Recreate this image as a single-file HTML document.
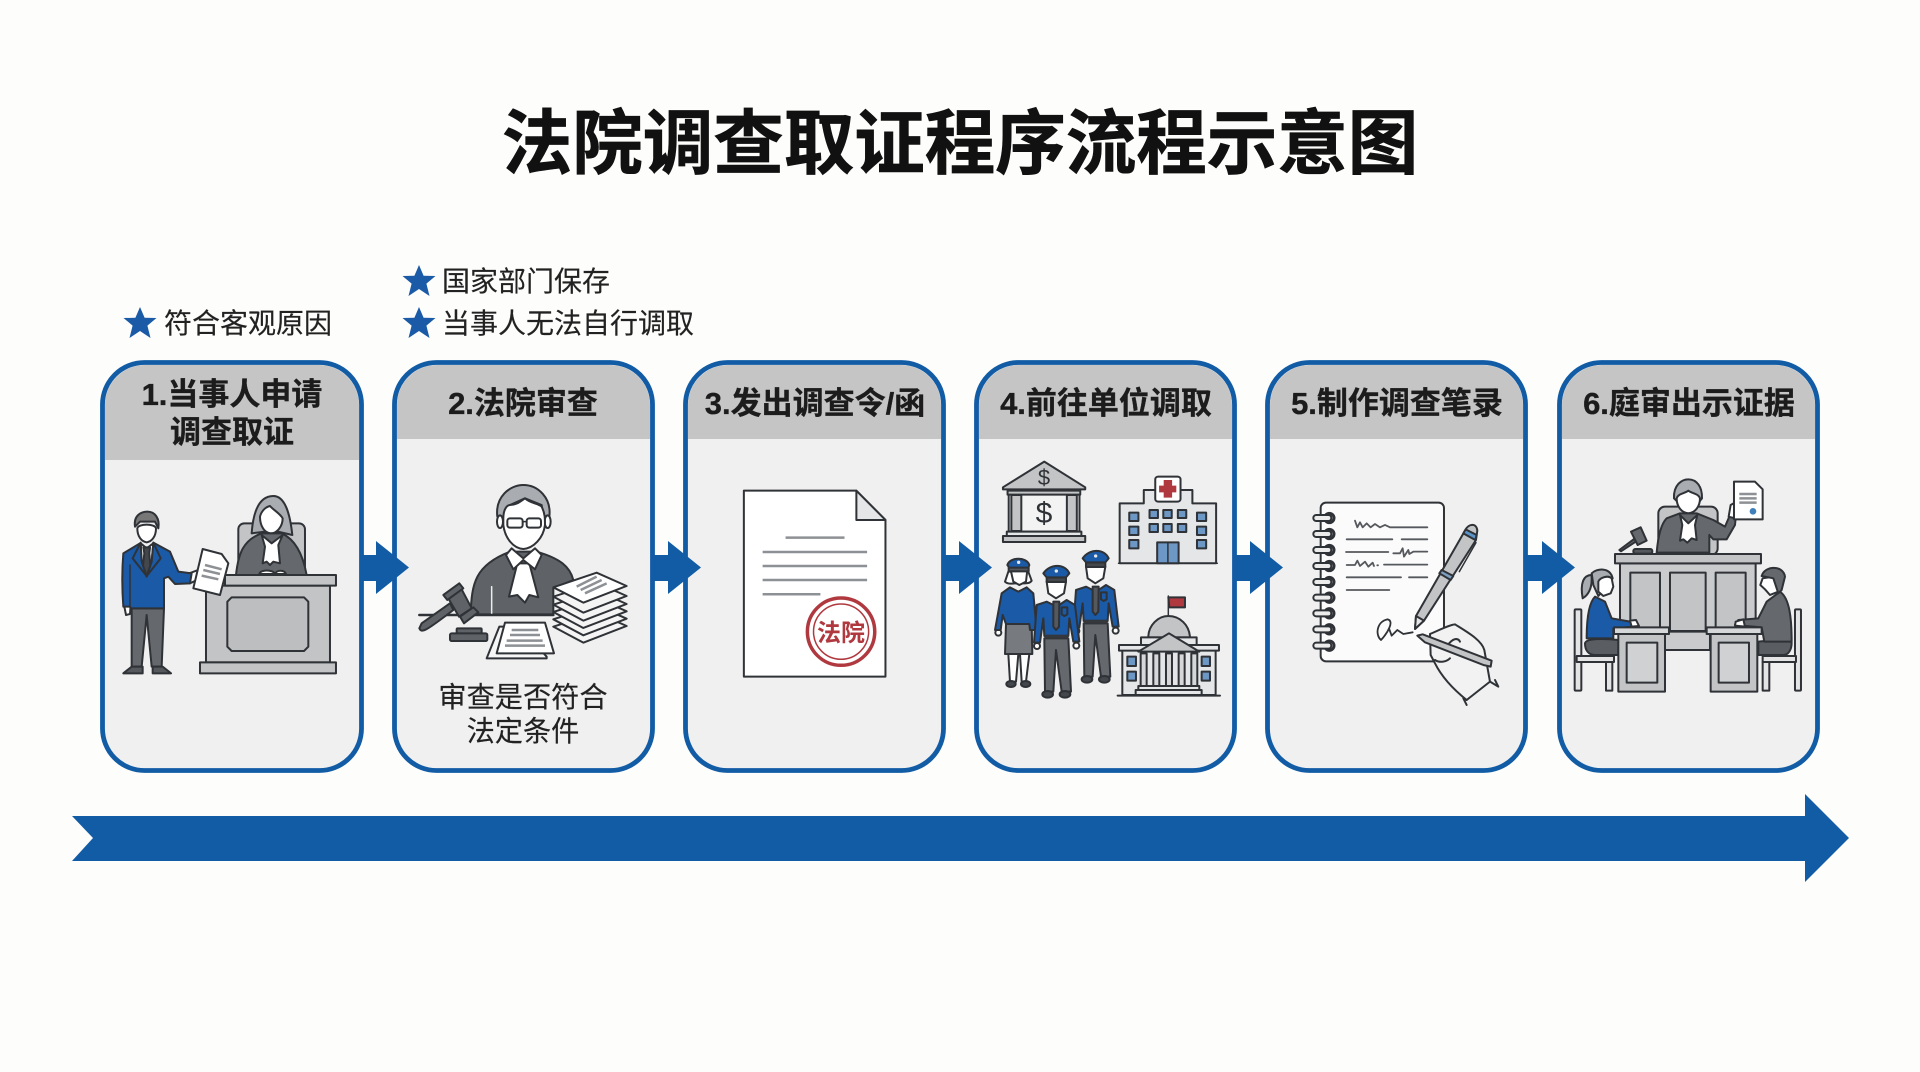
<!DOCTYPE html>
<html lang="zh"><head><meta charset="utf-8"><title>法院调查取证程序流程示意图</title>
<style>
html,body{margin:0;padding:0;background:#fdfdfb}
svg{display:block}
svg *{vector-effect:non-scaling-stroke}
text{font-family:"Liberation Sans","Noto Sans CJK SC",sans-serif;text-anchor:middle;fill:#222}
.h{font-size:31px;font-weight:700;fill:#1c1c1c;stroke:#1c1c1c;stroke-width:.35px}
.l{font-size:28px;fill:#222;text-anchor:start;stroke:#222;stroke-width:.15px}
.c{font-size:28.200px;fill:#222;stroke:#222;stroke-width:.15px}
.s{stroke:#2f3236;stroke-width:2;stroke-linejoin:round;stroke-linecap:round}
.t{stroke:#2f3236;stroke-width:1.500;stroke-linejoin:round;stroke-linecap:round;fill:none}
.g{stroke:#8d9094;stroke-width:2.500;fill:none}
.w{fill:#fff}.a{fill:#c2c4c6}.b{fill:#1a5aa6}.d{fill:#65686c}.e{fill:#a9acb0}.m{fill:#e4e6e8}
</style></head><body>
<svg xmlns="http://www.w3.org/2000/svg" width="1920" height="1072" viewBox="0 0 1920 1072">
<defs>
<polygon id="star" points="0,-16 4.600,-5.200 16.500,-5 7.400,2.600 10.500,15 0,8 -10.500,15 -7.400,2.600 -16.500,-5 -4.600,-5.200"/>
<path id="arw" d="M360,555H376V541L409,567.500 376,594V581H360Z"/>
<g id="cop">
<path class="s d" d="M163,265H235L243,425H215L198,300 190,425H165Z"/>
<ellipse class="s" fill="#44474b" cx="173" cy="433" rx="16" ry="10"/><ellipse class="s" fill="#44474b" cx="225" cy="433" rx="16" ry="10"/>
<circle class="s w" cx="141" cy="288" r="9"/><circle class="s w" cx="259" cy="287" r="9"/>
<path class="s b" d="M170,155L200,170 230,150 255,165 268,275H250L238,205 235,258H163L160,205 150,278H132L140,165Z"/>
<rect x="163" y="254" width="72" height="12" fill="#34373b"/>
<path class="s" fill="#55585c" d="M190,155H208L207,230 198,240 190,230Z"/>
<path class="s b" d="M215,172H232V193L223,198 215,193Z"/>
<path class="s w" d="M170,95H228L222,130 198,145 175,130Z"/>
<rect class="s" x="170" y="82" width="58" height="14" fill="#44474b"/>
<path class="s b" d="M160,70C180,40 225,40 238,70L228,82H170Z"/>
<circle cx="199" cy="63" r="5" fill="#e8e8e8"/>
</g>
<g id="ring">
<circle cx="88" cy="0" r="14" fill="#fff" stroke="#2f3236" stroke-width="3"/>
<rect class="s" x="40" y="-9" width="54" height="18" rx="9" fill="#ececec"/>
</g>
</defs>
<rect width="1920" height="1072" fill="#fdfdfb"/>

<text x="960" y="168" style="font-size:70.500px;font-weight:700;fill:#111;stroke:#111;stroke-width:.7px">法院调查取证程序流程示意图</text>

<g fill="#1a5aa6">
<use href="#star" x="140" y="323"/><use href="#star" x="419" y="281"/><use href="#star" x="419" y="323"/>
</g>
<text class="l" x="164" y="333">符合客观原因</text>
<text class="l" x="442" y="291">国家部门保存</text>
<text class="l" x="442" y="333">当事人无法自行调取</text>

<!-- cards -->
<g fill="#f0f0f0" stroke="#125ca6" stroke-width="4.800">
<rect x="102.500" y="362.500" width="259" height="408" rx="42"/>
<rect x="394.500" y="362.500" width="258" height="408" rx="42"/>
<rect x="685.500" y="362.500" width="258" height="408" rx="42"/>
<rect x="976.500" y="362.500" width="258" height="408" rx="42"/>
<rect x="1267.500" y="362.500" width="258" height="408" rx="42"/>
<rect x="1559.500" y="362.500" width="258" height="408" rx="42"/>
</g>
<g fill="#c5c5c5">
<path d="M105,460V405A40,40 0 0 1 145,365H319A40,40 0 0 1 359,405V460Z"/>
<path d="M397,439V405A40,40 0 0 1 437,365H610A40,40 0 0 1 650,405V439Z"/>
<path d="M688,439V405A40,40 0 0 1 728,365H901A40,40 0 0 1 941,405V439Z"/>
<path d="M979,439V405A40,40 0 0 1 1019,365H1192A40,40 0 0 1 1232,405V439Z"/>
<path d="M1270,439V405A40,40 0 0 1 1310,365H1483A40,40 0 0 1 1523,405V439Z"/>
<path d="M1562,439V405A40,40 0 0 1 1602,365H1775A40,40 0 0 1 1815,405V439Z"/>
</g>
<text class="h" x="232" y="405">1.当事人申请</text>
<text class="h" x="232" y="443">调查取证</text>
<text class="h" x="523" y="414">2.法院审查</text>
<text class="h" x="815" y="414">3.发出调查令/函</text>
<text class="h" x="1106" y="414">4.前往单位调取</text>
<text class="h" x="1397" y="414">5.制作调查笔录</text>
<text class="h" x="1689" y="414">6.庭审出示证据</text>

<!-- Card 1 -->
<g transform="translate(110 490) scale(.3333)">
 <rect class="s a" x="385" y="100" width="200" height="160" rx="18"/>
 <path class="s e" d="M425,130C430,60 450,18 490,18C525,18 540,70 547,135L505,125H465Z"/>
 <path class="s w" d="M450,80C455,60 470,50 480,48C490,60 510,70 518,85C518,110 500,130 483,130C465,130 450,110 450,80Z"/>
 <path class="s d" d="M378,255C385,190 400,150 455,130L515,130C560,150 580,200 590,255Z"/>
 <path class="s w" d="M455,135L485,160 518,135 505,165 510,220 490,215 480,225 470,215 458,220 465,170Z"/>
 <path class="s w" d="M448,252C450,238 490,238 495,252ZM495,252C500,238 525,240 528,252Z"/>
 <rect class="s a" x="288" y="287" width="372" height="230"/>
 <rect class="s a" x="345" y="255" width="333" height="32"/>
 <path class="s" fill="#bcbec0" d="M365,322H582L595,335V470L582,483H365L352,470V335Z"/>
 <rect class="s a" x="270" y="517" width="408" height="33"/>
 <path class="s d" d="M65,355H162L155,530H125L110,375 95,530H65Z"/>
 <path class="s" fill="#55585c" d="M40,550L65,530H98V550ZM128,550V530H158L183,550Z"/>
 <path class="s" fill="#777" d="M75,110C70,75 95,65 112,65C135,65 150,85 145,115L135,95H90Z"/>
 <path class="s w" d="M82,115C85,100 135,100 138,115C138,140 125,155 110,157C95,155 82,140 82,115Z"/>
 <path class="s w" d="M42,345H62L60,372 48,375Z"/>
 <path class="s w" d="M238,250L265,240 272,265 240,280Z"/>
 <path class="s b" d="M90,160L40,190C35,250 37,310 40,350H60L62,355H162V265L175,260 195,282 240,280 245,250 205,245 180,185 130,158 110,250Z"/>
 <path class="s w" d="M92,160L110,175 130,160 125,215 110,260 95,215Z"/>
 <path class="s" fill="#44474b" d="M100,172H120L118,190 122,235 110,255 98,235 103,190Z"/>
 <path class="s b" d="M92,158L68,205 110,258 95,215ZM130,158L152,205 110,258 125,215Z"/>
 <path class="t" d="M60,225V350"/>
 <path class="s w" d="M278,177L335,192 355,220 330,315 250,295Z"/>
 <path class="g" d="M285,225L335,238M280,240L330,252M275,257L325,268"/>
</g>

<!-- Card 2 -->
<g transform="translate(410 480) scale(.3333)">
 <path class="s e" d="M262,110C255,50 300,15 340,15C385,15 425,55 418,110H400L395,75 345,55 300,75 285,110Z"/>
 <ellipse class="s w" cx="270" cy="125" rx="9" ry="19"/><ellipse class="s w" cx="413" cy="125" rx="9" ry="19"/>
 <path class="s w" d="M280,115C280,90 290,75 300,75C320,75 330,65 345,55C360,70 385,70 395,80C405,100 405,115 405,135C400,175 370,205 340,207C310,205 285,175 280,135Z"/>
 <rect class="s w" x="292" y="115" width="46" height="28" rx="8"/><rect class="s w" x="350" y="115" width="43" height="28" rx="8"/>
 <path class="t" d="M338,125H350"/>
 <path class="s" fill="#5f6266" d="M182,403C185,310 195,255 300,215H380C450,235 480,260 490,300L430,325V403Z"/>
 <path class="t" d="M245,320V403" style="stroke:#eee"/>
 <path class="s w" d="M322,250H358L385,352 358,345 345,368 322,345 297,350Z"/>
 <path class="s w" d="M288,225L305,205 340,235 375,205 395,225 375,268 340,240 310,268Z"/>
 <path class="s" d="M28,405H430" fill="none" style="stroke-width:2.500"/>
 <path class="s" fill="#5f6266" d="M28,445C35,460 45,455 130,390L120,370 35,430Z"/>
 <path class="s" fill="#5f6266" d="M115,355L155,328 185,385 147,410Z"/>
 <path class="s" fill="#5f6266" d="M100,345L148,310 160,325 112,360Z"/>
 <path class="s" fill="#5f6266" d="M150,410L190,382 205,397 162,430Z"/>
 <rect class="s" fill="#5f6266" x="140" y="445" width="75" height="16" rx="3"/>
 <rect class="s" fill="#5f6266" x="120" y="460" width="112" height="23" rx="5"/>
 <path class="s" fill="#f6f6f6" d="M230,535L268,440H330L410,530V535Z"/>
 <path class="s w" d="M260,520L285,428H405L432,520Z"/>
 <path class="g" d="M305,450H385M300,465H390M290,482H398M285,497H405"/>
 <g class="s" fill="#f4f4f4">
  <path d="M430,440L560,398 650,438 520,488Z"/>
  <path d="M430,418L560,376 650,416 520,466Z"/>
  <path d="M430,396L560,354 650,394 520,444Z"/>
  <path d="M430,374L560,332 650,372 520,422Z"/>
  <path d="M430,350L560,308 650,348 520,398Z"/>
  <path d="M430,322L560,278 650,318 520,368Z" fill="#fff"/>
 </g>
 <path class="g" d="M500,320L560,290M512,330L575,300M525,340L590,310"/>
</g>
<text class="c" x="523" y="707">审查是否符合</text>
<text class="c" x="523" y="741">法定条件</text>

<!-- Card 3, bank, hospital -->
<g transform="translate(670 350) scale(.3827 .3333)">
 <path class="s w" d="M193,422H487L563,510V980H193Z"/>
 <path class="s m" d="M487,422V510H563Z"/>
 <path class="g" d="M302,563H456M242,606H515M242,648H515M242,690H515M242,733H393"/>
 <ellipse cx="447" cy="845" rx="88" ry="101" fill="#fff" stroke="#b0393f" stroke-width="3.500"/>
 <ellipse cx="447" cy="845" rx="72" ry="83" fill="none" stroke="#b0393f" stroke-width="1.500"/>

 <path class="s a" d="M978,335L1085,412V418H870V412Z"/>
 <rect class="s" x="885" y="420" width="185" height="125" fill="#f3f3f3"/>
 <rect class="s a" x="892" y="435" width="26" height="108"/><rect class="s a" x="1037" y="435" width="26" height="108"/>
 <rect class="s a" x="882" y="422" width="190" height="12"/>
 <rect class="s m" x="880" y="545" width="195" height="13"/><rect class="s a" x="870" y="558" width="215" height="18"/>

 <path class="s m" d="M1175,640V460H1238V420H1365V460H1427V640Z"/>
 <rect class="s w" x="1268" y="380" width="66" height="75" rx="8"/>
 <path fill="#b0393f" d="M1290,390H1312V407H1323V427H1312V443H1290V427H1278V407H1290Z"/>
 <g class="s" fill="#6d97c4">
 <rect x="1200" y="488" width="24" height="25"/><rect x="1200" y="530" width="24" height="25"/><rect x="1200" y="570" width="24" height="25"/>
 <rect x="1377" y="488" width="24" height="25"/><rect x="1377" y="530" width="24" height="25"/><rect x="1377" y="570" width="24" height="25"/>
 <rect x="1253" y="480" width="22" height="24"/><rect x="1289" y="480" width="22" height="24"/><rect x="1327" y="480" width="22" height="24"/>
 <rect x="1253" y="522" width="22" height="24"/><rect x="1289" y="522" width="22" height="24"/><rect x="1327" y="522" width="22" height="24"/>
 <rect x="1273" y="577" width="56" height="63"/>
 </g>
 <path class="t" d="M1301,577V640M1172,640H1430"/>
</g>
<text x="841" y="641" style="font-size:24px;font-weight:700;fill:#b0393f">法院</text>
<text x="1044" y="485" style="font-size:22px;fill:#2f3236">$</text>
<text x="1044" y="523" style="font-size:30px;fill:#2f3236">$</text>

<!-- Police + capitol -->
<g transform="translate(990 550) scale(.3333)">
 <path class="s w" d="M55,312H85L78,395H60ZM90,312H118L108,395H95Z"/>
 <ellipse class="s" fill="#44474b" cx="63" cy="402" rx="14" ry="9"/><ellipse class="s" fill="#44474b" cx="107" cy="402" rx="14" ry="9"/>
 <path class="s" fill="#777a7e" d="M48,222H125L127,312H45Z"/>
 <path class="s w" d="M55,65L45,95C55,105 70,100 75,100H100C110,100 120,100 125,92L115,65Z"/>
 <circle class="s w" cx="25" cy="248" r="9"/>
 <path class="s b" d="M60,112L85,125 110,112 130,130 140,240H120L118,222H48L38,195 32,240H15L35,130Z"/>
 <path class="s w" d="M62,60H112L108,95 88,105 70,95Z"/>
 <rect class="s" x="56" y="52" width="60" height="12" fill="#55585c"/>
 <path class="s b" d="M52,45C60,20 110,20 118,45L115,53H58Z"/>
 <circle cx="86" cy="37" r="5" fill="#e8e8e8"/>
 <use href="#cop" x="118" y="-45"/>
 <use href="#cop"/>

 <path class="t" d="M535,138V200"/>
 <path class="s" fill="#b0393f" d="M535,142H585V172H538Z"/>
 <path class="s a" d="M475,262C475,225 505,198 535,198C570,198 598,225 600,262Z"/>
 <rect class="s m" x="453" y="262" width="167" height="25"/>
 <rect class="s m" x="397" y="300" width="280" height="135"/>
 <rect class="s m" x="387" y="285" width="300" height="17"/>
 <g class="s" fill="#d5d7d9"><rect x="452" y="310" width="18" height="98"/><rect x="490" y="310" width="18" height="98"/><rect x="528" y="310" width="18" height="98"/><rect x="566" y="310" width="18" height="98"/><rect x="604" y="310" width="18" height="98"/></g>
 <path class="s a" d="M445,305L537,250 628,305Z"/>
 <rect class="s m" x="445" y="408" width="183" height="12"/><rect class="s m" x="437" y="420" width="198" height="15"/>
 <g class="s" fill="#6d97c4"><rect x="412" y="320" width="26" height="28"/><rect x="412" y="365" width="26" height="27"/><rect x="635" y="320" width="25" height="28"/><rect x="635" y="365" width="25" height="27"/></g>
 <path class="t" d="M383,437H690" style="stroke-width:2"/>
</g>

<!-- Card 5 -->
<g transform="translate(1300 490) scale(.3333)">
 <rect class="s" fill="#fbfbfb" x="62" y="38" width="370" height="476" rx="16"/>
 <use href="#ring" y="84"/><use href="#ring" y="132"/><use href="#ring" y="180"/><use href="#ring" y="228"/><use href="#ring" y="276"/><use href="#ring" y="323"/><use href="#ring" y="370"/><use href="#ring" y="418"/><use href="#ring" y="467"/>
 <path class="t" style="stroke:#55585c;stroke-width:1.800" d="M165,92L172,112 180,97 188,112 200,100 212,112 225,102 240,112 255,105 270,112H382M140,148H277M305,148H382M138,186H265M280,190H300L308,175 312,200 325,180 328,192 340,185H382M140,225H165L172,212 180,228 195,215 205,230 218,218 222,228M232,226H234M252,224H382M140,262H303M327,262H382M140,300H268"/>
 <path class="t" style="stroke-width:1.800" d="M243,450C225,435 230,395 262,388C285,392 262,430 243,450M268,418L275,437 292,420 310,432 338,427"/>
 <path class="s a" d="M495,122C505,100 530,98 532,122L528,150 372,392 345,417 348,378Z"/>
 <path class="s" fill="#5b93c7" d="M497,118L530,135 526,150 490,130Z"/>
 <path class="s" fill="#7d9fc0" d="M425,240L460,258 452,270 418,250Z"/>
 <path class="s m" d="M348,378L372,392 345,417Z"/>
 <path class="t" d="M528,158L478,245"/>
 <path class="s" fill="#f2f2f2" d="M390,432C420,420 445,405 465,403C500,425 545,450 553,480L570,575 500,630C450,590 420,550 405,520L392,495Z"/>
 <path class="t" style="stroke-width:2" d="M570,575L595,590 585,570M500,630L490,625 500,645M440,470C460,440 475,445 480,455M405,510C420,520 440,515 450,505"/>
 <path class="s a" d="M352,437L368,433 575,512 572,530 550,525 375,457Z"/>
</g>

<!-- Card 6 -->
<g transform="translate(1570 470) scale(.3333)">
 <rect class="s a" x="265" y="110" width="178" height="145" rx="20"/>
 <path class="s e" d="M312,85C310,45 335,28 355,28C380,28 397,50 396,85L388,95 322,95Z"/>
 <path class="s w" d="M320,85C325,70 345,70 355,62C365,70 385,70 390,85C390,110 375,128 355,130C335,128 320,110 320,85Z"/>
 <path class="s d" d="M260,248C265,190 275,160 290,145L330,130H380L430,150 465,170 480,135 497,145 495,165 470,208H430L418,195V248Z"/>
 <path class="s w" d="M330,135L355,160 382,135 375,165 380,210 365,205 352,218 340,208 330,212 337,165Z"/>
 <path class="s w" d="M476,140L482,105 500,95 503,118 495,145Z"/>
 <path class="s w" d="M492,35H555L578,58V148H492Z"/>
 <path class="g" d="M508,72H560M508,85H560M508,98H560"/>
 <circle cx="549" cy="124" r="10" fill="#3f7fba"/>
 <path class="s d" d="M148,240L195,205 200,213 153,244Z"/>
 <path class="s d" d="M183,185L212,172 230,212 203,225Z"/>
 <rect class="s" fill="#55585c" x="190" y="237" width="57" height="14" rx="6"/>
 <rect class="s" fill="#c9cbcd" x="150" y="280" width="407" height="205"/>
 <rect class="s a" x="135" y="252" width="438" height="28"/>
 <rect class="s a" x="181" y="308" width="89" height="165"/>
 <rect class="s a" x="300" y="308" width="107" height="175"/>
 <rect class="s a" x="437" y="308" width="90" height="165"/>
 <rect class="s" fill="#c9cbcd" x="285" y="485" width="135" height="55"/>
 <g class="s" fill="#e4e4e4">
  <rect x="14" y="418" width="20" height="244" rx="3"/><rect x="108" y="576" width="19" height="86"/><rect x="20" y="558" width="112" height="18"/>
  <rect x="675" y="418" width="18" height="244" rx="3"/><rect x="578" y="576" width="20" height="86"/><rect x="578" y="558" width="100" height="18"/>
 </g>
 <path class="s" fill="#5a5d61" d="M45,520C48,505 100,505 145,510V555H75C55,555 45,540 45,520Z"/>
 <path class="s b" d="M75,380L105,395 125,445 180,455 190,470 130,475V505H50C50,450 55,400 75,380Z"/>
 <path class="s w" d="M180,452L198,450 207,468 185,470Z"/>
 <path class="s e" d="M65,315C40,315 30,340 38,385C55,375 65,355 65,330Z"/>
 <path class="s e" d="M65,310C80,295 120,290 128,325L115,345 85,378 70,345Z"/>
 <path class="s w" d="M85,335C90,322 115,315 125,325L130,350 122,370 100,378 85,365Z"/>
 <path class="s" fill="#5a5d61" d="M665,518C660,510 610,510 565,515V555H640C655,555 665,540 665,518Z"/>
 <path class="s d" d="M630,365L590,395 565,445 505,450 495,465 575,472 583,515H665C665,450 660,385 630,365Z"/>
 <path class="s w" d="M520,448L497,455 495,467 525,470Z"/>
 <path class="s w" d="M578,325L612,320 625,365 600,375 585,358 571,345Z"/>
 <path class="s" fill="#65686c" d="M575,318C585,285 640,285 645,320L635,360 625,370 610,325Z"/>
 <rect class="s a" x="145" y="490" width="140" height="175"/>
 <rect class="s" fill="#cfd1d3" x="170" y="518" width="92" height="120"/>
 <rect class="s" fill="#d5d7d9" x="132" y="472" width="165" height="20"/>
 <rect class="s a" x="422" y="490" width="140" height="175"/>
 <rect class="s" fill="#cfd1d3" x="446" y="518" width="91" height="120"/>
 <rect class="s" fill="#d5d7d9" x="410" y="472" width="165" height="20"/>
</g>

<!-- arrows -->
<g fill="#125ca6">
<use href="#arw"/>
<use href="#arw" x="292"/>
<use href="#arw" x="583"/>
<use href="#arw" x="874"/>
<use href="#arw" x="1166"/>
</g>
<polygon fill="#125ca6" points="72,816 1805,816 1805,794 1849,838 1805,882 1805,861 72,861 93,838"/>
</svg>
</body></html>
